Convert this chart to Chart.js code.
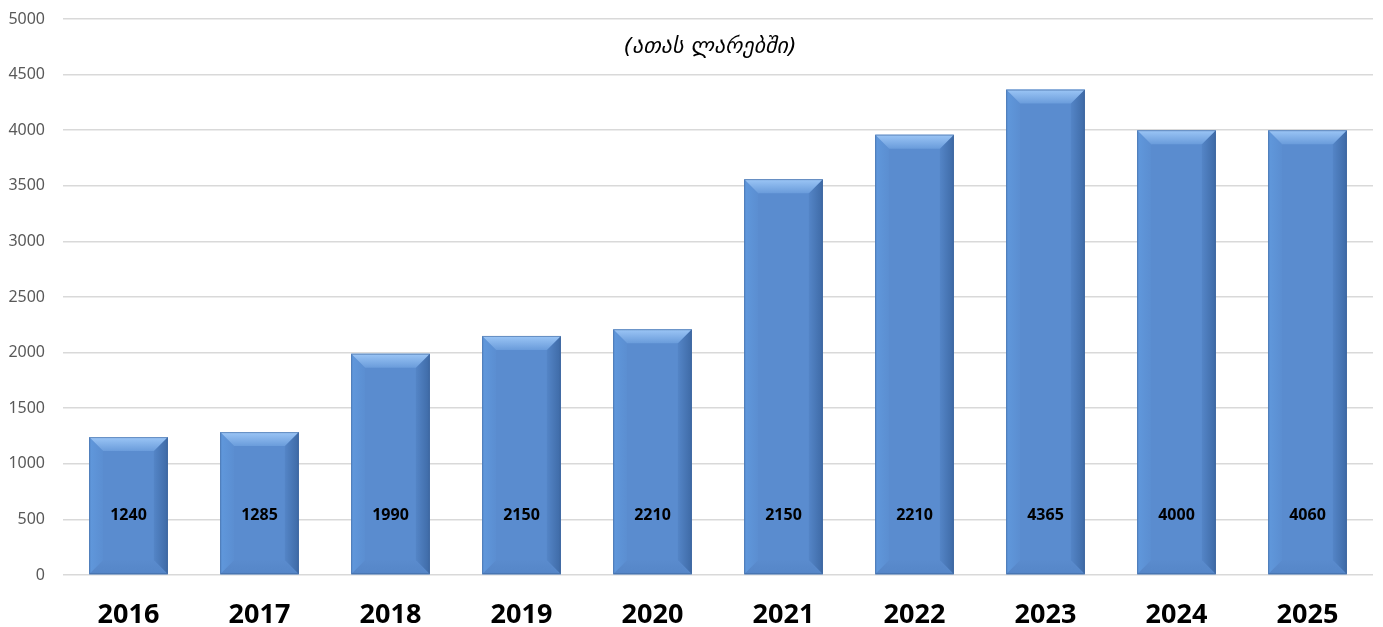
<!DOCTYPE html>
<html>
<head>
<meta charset="utf-8">
<script src="https://cdn.jsdelivr.net/npm/chart.js@4"></script>
<style>
html,body{margin:0;padding:0;background:#fff;}
#wrap{width:1383px;height:627px;position:relative;}
</style>
</head>
<body>
<div id="wrap"><canvas id="c" width="1383" height="627"></canvas></div>
<script>
const years = ['2016','2017','2018','2019','2020','2021','2022','2023','2024','2025'];
const barValues = [1240, 1285, 1990, 2150, 2210, 3560, 3960, 4365, 4000, 4000];
const labelValues = ['1240','1285','1990','2150','2210','2150','2210','4365','4000','4060'];
const subtitleText = '(ათას ლარებში)';
const yMax = 5000;
const yStep = 500;

const bevelPlugin = {
  id: 'bevel',
  afterDatasetsDraw(chart) {
    const ctx = chart.ctx;
    const meta = chart.getDatasetMeta(0);
    const ys = chart.scales.y;
    meta.data.forEach((bar, i) => {
      const w = bar.width;
      const l = bar.x - w / 2, r = bar.x + w / 2, t = bar.y, b = bar.base;
      const s = Math.min(14, (b - t) / 2);
      ctx.save();
      let g = ctx.createLinearGradient(l, 0, l + s, 0);
      g.addColorStop(0, '#6098DC'); g.addColorStop(1, '#5B8ED1');
      ctx.fillStyle = g;
      ctx.beginPath(); ctx.moveTo(l, t); ctx.lineTo(l + s, t + s); ctx.lineTo(l + s, b - s); ctx.lineTo(l, b); ctx.closePath(); ctx.fill();
      g = ctx.createLinearGradient(r - s, 0, r, 0);
      g.addColorStop(0, '#5485C7'); g.addColorStop(1, '#3E6AA6');
      ctx.fillStyle = g;
      ctx.beginPath(); ctx.moveTo(r, t); ctx.lineTo(r - s, t + s); ctx.lineTo(r - s, b - s); ctx.lineTo(r, b); ctx.closePath(); ctx.fill();
      g = ctx.createLinearGradient(0, b - s, 0, b);
      g.addColorStop(0, '#5A8BCD'); g.addColorStop(1, '#5586C8');
      ctx.fillStyle = g;
      ctx.beginPath(); ctx.moveTo(l, b); ctx.lineTo(l + s, b - s); ctx.lineTo(r - s, b - s); ctx.lineTo(r, b); ctx.closePath(); ctx.fill();
      g = ctx.createLinearGradient(0, t, 0, t + s);
      g.addColorStop(0, '#9CC6F6'); g.addColorStop(1, '#6A9CDB');
      ctx.fillStyle = g;
      ctx.beginPath(); ctx.moveTo(l, t); ctx.lineTo(r, t); ctx.lineTo(r - s, t + s); ctx.lineTo(l + s, t + s); ctx.closePath(); ctx.fill();
      ctx.strokeStyle = 'rgba(55,95,150,0.55)';
      ctx.lineWidth = 1;
      ctx.strokeRect(l + 0.5, t + 0.5, w - 1, b - t - 1);
      ctx.restore();
      ctx.save();
      ctx.font = 'bold 16px "Noto Sans", "DejaVu Sans", sans-serif';
      ctx.fillStyle = '#000';
      ctx.textAlign = 'center';
      ctx.textBaseline = 'middle';
      ctx.fillText(labelValues[i], bar.x, ys.getPixelForValue(540));
      ctx.restore();
    });
    ctx.save();
    ctx.font = 'italic 22px "DejaVu Sans", sans-serif';
    ctx.fillStyle = '#000';
    ctx.textAlign = 'center';
    ctx.textBaseline = 'middle';
    ctx.fillText(subtitleText, 710, 47);
    ctx.restore();
  }
};

new Chart(document.getElementById('c'), {
  type: 'bar',
  data: {
    labels: years,
    datasets: [{
      data: barValues,
      backgroundColor: '#5A8CCF',
      borderWidth: 0,
      categoryPercentage: 1.0,
      barPercentage: 0.6
    }]
  },
  options: {
    responsive: false,
    animation: false,
    devicePixelRatio: 1,
    layout: { padding: { top: 19, right: 10, left: 0, bottom: 0 } },
    plugins: { legend: { display: false }, tooltip: { enabled: false }, title: { display: false } },
    scales: {
      x: {
        grid: { display: false, drawTicks: false },
        border: { display: false },
        ticks: { color: '#000', padding: 24, font: { family: '"Noto Sans", sans-serif', size: 27, weight: 'bold' } },
        afterFit(s) { s.height = 52; }
      },
      y: {
        min: 0, max: yMax,
        grid: { color: '#d9d9d9', lineWidth: 1.5, drawTicks: false },
        border: { display: false },
        ticks: { stepSize: yStep, color: '#595959', padding: 18, font: { family: '"Noto Sans", sans-serif', size: 16 },
          callback: (v) => String(v) },
        afterFit(s) { s.width = 63; s.paddingTop = 0; s.paddingBottom = 0; }
      }
    }
  },
  plugins: [bevelPlugin]
});
</script>
</body>
</html>
